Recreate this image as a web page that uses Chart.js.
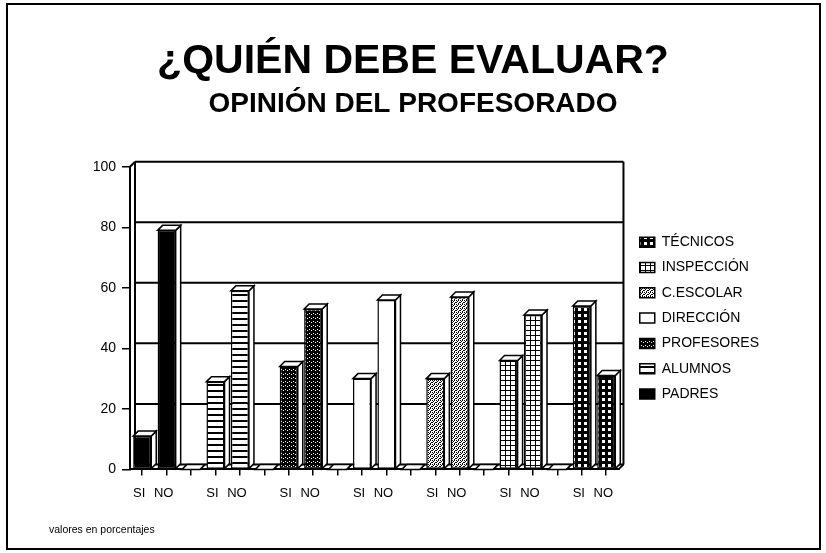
<!DOCTYPE html>
<html>
<head>
<meta charset="utf-8">
<script src="https://cdn.jsdelivr.net/npm/chart.js@4.4.0/dist/chart.umd.min.js"></script>
<style>
  body { margin: 0; background: #fff; }
  #caja { width: 826px; height: 553px; }
</style>
</head>
<body>
<div id="caja"><canvas id="grafico"></canvas></div>
<script>
// datos (porcentajes)
const grupos = ["PADRES", "ALUMNOS", "PROFESORES", "DIRECCIÓN", "C.ESCOLAR", "INSPECCIÓN", "TÉCNICOS"];
const respuestas = ["SI", "NO"];
const valoresSi = [11, 29, 34, 30, 30, 36, 54];
const valoresNo = [79, 59, 53, 56, 57, 51, 31];
const ticksY = [0, 20, 40, 60, 80, 100];

const FUENTE = "'Liberation Sans', Arial, Helvetica, sans-serif";
const D = 5; // profundidad 3D

function patron(tipo) {
  const c = document.createElement("canvas");
  const g = c.getContext("2d");
  if (tipo === "negro") { c.width = c.height = 2; g.fillStyle = "#000"; g.fillRect(0, 0, 2, 2); }
  else if (tipo === "blanco") { c.width = c.height = 2; g.fillStyle = "#fff"; g.fillRect(0, 0, 2, 2); }
  else if (tipo === "rayas") {
    c.width = 6; c.height = 6;
    g.fillStyle = "#fff"; g.fillRect(0, 0, 6, 6);
    g.fillStyle = "#000"; g.fillRect(0, 0, 6, 2);
  } else if (tipo === "oscuro") {
    c.width = c.height = 4;
    g.fillStyle = "#000"; g.fillRect(0, 0, 4, 4);
    g.fillStyle = "#fff"; g.fillRect(1, 1, 1, 1); g.fillRect(3, 2, 1, 1);
  } else if (tipo === "gris") {
    c.width = c.height = 4;
    g.fillStyle = "#fff"; g.fillRect(0, 0, 4, 4);
    g.fillStyle = "#000";
    [[0,0],[2,0],[1,1],[3,2],[0,2],[2,3]].forEach(p => g.fillRect(p[0], p[1], 1, 1));
  } else if (tipo === "rejilla") {
    c.width = c.height = 5;
    g.fillStyle = "#fff"; g.fillRect(0, 0, 5, 5);
    g.fillStyle = "#000"; g.fillRect(0, 0, 5, 1); g.fillRect(0, 0, 1, 5);
  } else if (tipo === "cuadros") {
    c.width = c.height = 6;
    g.fillStyle = "#000"; g.fillRect(0, 0, 6, 6);
    g.fillStyle = "#fff"; g.fillRect(2, 2, 3, 3);
  }
  return g.createPattern(c, "repeat");
}

const patrones = ["negro", "rayas", "oscuro", "blanco", "gris", "rejilla", "cuadros"].map(patron);

// tabla para la libreria: SI, NO y un hueco entre grupos
const etiquetasX = [], datosBarras = [], fondos = [];
grupos.forEach((g, i) => {
  etiquetasX.push(respuestas[0], respuestas[1]);
  datosBarras.push(valoresSi[i], valoresNo[i]);
  fondos.push(patrones[i], patrones[i]);
  if (i < grupos.length - 1) { etiquetasX.push(""); datosBarras.push(null); fondos.push("#fff"); }
});

const efecto3d = {
  id: "efecto3d",
  beforeDatasetsDraw(chart) {
    const { ctx, chartArea: a, scales } = chart;
    const y = scales.y;
    ctx.save();
    ctx.strokeStyle = "#000";
    ctx.lineWidth = 2;
    ticksY.forEach(v => {
      const py = y.getPixelForValue(v) - D;
      ctx.beginPath(); ctx.moveTo(a.left + D, py); ctx.lineTo(a.right + D, py); ctx.stroke();
    });
    const y0 = y.getPixelForValue(0), y1 = y.getPixelForValue(100);
    ctx.beginPath();
    ctx.moveTo(a.left + D, y1 - D); ctx.lineTo(a.left + D, y0 - D);
    ctx.moveTo(a.right + D, y1 - D); ctx.lineTo(a.right + D, y0 - D);
    ctx.moveTo(a.left, y1); ctx.lineTo(a.left + D, y1 - D);
    ctx.moveTo(a.right, y0); ctx.lineTo(a.right + D, y0 - D);
    ctx.stroke();
    ctx.restore();
  },
  afterDatasetsDraw(chart) {
    const { ctx } = chart;
    ctx.save();
    ctx.fillStyle = "#fff"; ctx.strokeStyle = "#000"; ctx.lineWidth = 1.5;
    chart.getDatasetMeta(0).data.forEach(b => {
      const p = b.getProps(["x", "y", "base", "width"], true);
      if (p.y == null || isNaN(p.y)) return;
      const l = p.x - p.width / 2, r = p.x + p.width / 2;
      ctx.beginPath();
      ctx.moveTo(r, p.y); ctx.lineTo(r + D, p.y - D); ctx.lineTo(r + D, p.base - D); ctx.lineTo(r, p.base);
      ctx.closePath(); ctx.fill(); ctx.stroke();
      ctx.beginPath();
      ctx.moveTo(l, p.y); ctx.lineTo(l + D, p.y - D); ctx.lineTo(r + D, p.y - D); ctx.lineTo(r, p.y);
      ctx.closePath(); ctx.fill(); ctx.stroke();
    });
    ctx.restore();
  },
  afterDraw(chart) {
    const { ctx } = chart;
    ctx.save();
    ctx.strokeStyle = "#000"; ctx.lineWidth = 2;
    ctx.strokeRect(7, 4, 813, 545);
    ctx.fillStyle = "#000";
    ctx.font = "10.5px " + FUENTE;
    ctx.textBaseline = "middle";
    ctx.fillText("valores en porcentajes", 49, 530);
    ctx.restore();
  }
};

new Chart(document.getElementById("grafico"), {
  type: "bar",
  data: {
    labels: etiquetasX,
    datasets: [{
      data: datosBarras,
      backgroundColor: fondos,
      borderColor: "#000",
      borderWidth: 1.5,
      borderSkipped: false,
      barPercentage: 0.74,
      categoryPercentage: 1
    }]
  },
  options: {
    responsive: true,
    maintainAspectRatio: false,
    animation: false,
    layout: { padding: { top: 20, left: 57, right: 57, bottom: 42 } },
    scales: {
      x: {
        grid: { drawOnChartArea: false, offset: false, tickLength: 6, color: "#000", lineWidth: 1.5 },
        border: { color: "#000", width: 2 },
        ticks: { autoSkip: false, maxRotation: 0, padding: 10, labelOffset: -3, color: "#000", font: { family: FUENTE, size: 13 } }
      },
      y: {
        min: 0, max: 100,
        afterFit(s) { s.width = 73; },
        afterBuildTicks(s) { s.ticks = ticksY.map(v => ({ value: v })); },
        grid: { drawOnChartArea: false, tickLength: 8, color: "#000", lineWidth: 1.5 },
        border: { color: "#000", width: 2 },
        ticks: { padding: 6, color: "#000", font: { family: FUENTE, size: 14 } }
      },
      yDer: {
        position: "right",
        afterFit(s) { s.width = 10; },
        grid: { display: false },
        border: { display: false },
        ticks: { display: false }
      }
    },
    plugins: {
      title: {
        display: true,
        text: "¿QUIÉN DEBE EVALUAR?",
        color: "#000",
        font: { family: FUENTE, size: 41, weight: "bold" },
        padding: { top: 17, bottom: 0 }
      },
      subtitle: {
        display: true,
        text: "OPINIÓN DEL PROFESORADO",
        color: "#000",
        font: { family: FUENTE, size: 28, weight: "bold" },
        padding: { top: 1, bottom: 46 }
      },
      legend: {
        position: "right",
        fullSize: false,
        maxWidth: 200,
        labels: {
          boxWidth: 15, boxHeight: 10, padding: 11.3, color: "#000",
          font: { family: FUENTE, size: 14 },
          generateLabels: () => grupos.map((g, i) => ({
            text: g, fillStyle: patrones[i], strokeStyle: "#000", lineWidth: 1.5, datasetIndex: 0
          })).reverse()
        },
        onClick: null
      },
      tooltip: { enabled: false }
    }
  },
  plugins: [efecto3d]
});
</script>
</body>
</html>
